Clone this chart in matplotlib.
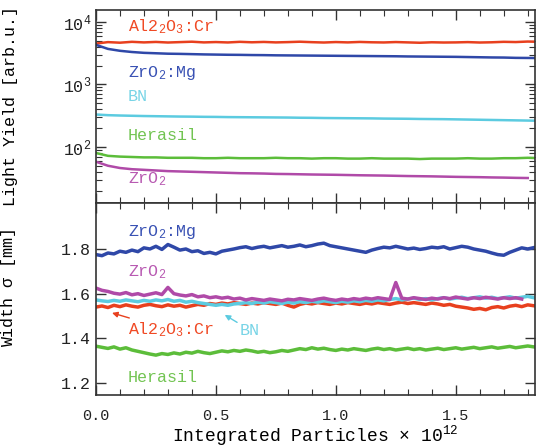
import numpy as np
import matplotlib
matplotlib.use('Agg')
import matplotlib.pyplot as plt
from matplotlib.ticker import MultipleLocator, LogLocator, NullFormatter, FixedLocator

plt.rcParams['font.family'] = ['Liberation Mono', 'DejaVu Sans Mono']
plt.rcParams['mathtext.fontset'] = 'custom'
plt.rcParams['mathtext.rm'] = 'Liberation Mono'
plt.rcParams['mathtext.it'] = 'Liberation Mono:italic'
plt.rcParams['mathtext.default'] = 'rm'

# 颜色
c_red = '#e8401e'
c_blue = '#2f48a8'
c_cyan = '#5ccbe0'
c_green = '#5cbd3a'
c_mag = '#b04aa8'

# ===== 上图: Light Yield（x 每 0.05 一个点）=====
x_top = np.arange(38) * 0.05
ly_al2o3 = [4500, 4750, 4650, 4800, 4700, 4780, 4680, 4750, 4820, 4700, 4760, 4690, 4800,
            4720, 4780, 4700, 4750, 4820, 4740, 4680, 4760, 4700, 4780, 4720, 4690, 4760,
            4700, 4640, 4720, 4680, 4700, 4750, 4680, 4720, 4800, 4760, 4850, 4800]
ly_zro2mg = [4300, 3700, 3450, 3300, 3200, 3150, 3100, 3080, 3050, 3020, 3000, 2980, 2970,
             2950, 2940, 2920, 2910, 2900, 2890, 2880, 2870, 2860, 2850, 2840, 2830, 2820,
             2800, 2790, 2780, 2770, 2760, 2740, 2720, 2700, 2690, 2660, 2650, 2640]
ly_bn = [330, 322, 318, 315, 312, 310, 308, 306, 305, 303, 302, 300, 299, 298, 297, 296,
         295, 293, 292, 290, 289, 288, 287, 286, 284, 283, 282, 280, 279, 278, 276, 274,
         272, 270, 268, 266, 264, 262]
ly_herasil = [80, 72, 70, 69, 68, 68, 67, 67, 67, 66, 66, 67, 66, 66, 66, 67, 66, 66, 65,
              66, 66, 65, 65, 66, 65, 65, 65, 64, 65, 65, 65, 66, 65, 65, 66, 66, 67, 66]
ly_zro2 = [58, 50, 46, 44, 43, 42, 41, 40.5, 40, 39.5, 39, 38.5, 38, 37.8, 37.5, 37, 36.8,
           36.5, 36.2, 36, 35.8, 35.5, 35.2, 35, 34.8, 34.5, 34.2, 34, 33.8, 33.5, 33.2,
           33, 32.8, 32.5, 32.3, 32, 31.8]

# ===== 下图: Width sigma（x 每 0.025 一个点）=====
x_bot = np.arange(74) * 0.025
w_zro2mg = [1.775, 1.770, 1.782, 1.778, 1.790, 1.785, 1.795, 1.788, 1.805,
            1.800, 1.812, 1.798, 1.820, 1.808, 1.795, 1.800, 1.788, 1.792, 1.780, 1.785, 1.778,
            1.790, 1.795, 1.800, 1.806, 1.810, 1.802, 1.808, 1.812, 1.805, 1.810, 1.815, 1.808,
            1.812, 1.818, 1.810, 1.815, 1.822, 1.826, 1.815, 1.810, 1.805, 1.800, 1.795, 1.790,
            1.785, 1.795, 1.802, 1.808, 1.805, 1.812, 1.806, 1.800, 1.804, 1.798, 1.802, 1.808,
            1.805, 1.810, 1.800, 1.806, 1.812, 1.808, 1.800, 1.795, 1.790, 1.782, 1.775, 1.772,
            1.785, 1.795, 1.805, 1.800, 1.806]
w_zro2 = [1.625, 1.615, 1.610, 1.602, 1.598, 1.605, 1.595, 1.600, 1.592,
          1.598, 1.604, 1.596, 1.628, 1.600, 1.594, 1.590, 1.596, 1.586, 1.590, 1.582, 1.586,
          1.580, 1.584, 1.576, 1.580, 1.572, 1.578, 1.574, 1.570, 1.576, 1.572, 1.568, 1.575,
          1.572, 1.578, 1.574, 1.570, 1.576, 1.580, 1.574, 1.570, 1.576, 1.572, 1.578, 1.574,
          1.580, 1.576, 1.582, 1.578, 1.574, 1.650, 1.580, 1.576, 1.582, 1.578, 1.574, 1.580,
          1.576, 1.582, 1.578, 1.585, 1.580, 1.576, 1.582, 1.578, 1.584, 1.580, 1.576, 1.582,
          1.578, 1.582, 1.576]
w_bn = [1.572, 1.568, 1.565, 1.570, 1.566, 1.572, 1.568, 1.564, 1.570,
        1.566, 1.572, 1.568, 1.574, 1.566, 1.570, 1.562, 1.566, 1.560, 1.556, 1.552, 1.548,
        1.552, 1.548, 1.554, 1.556, 1.560, 1.556, 1.562, 1.558, 1.564, 1.560, 1.556, 1.562,
        1.558, 1.564, 1.560, 1.566, 1.562, 1.568, 1.564, 1.560, 1.566, 1.562, 1.568, 1.564,
        1.570, 1.566, 1.572, 1.568, 1.574, 1.578, 1.572, 1.576, 1.580, 1.574, 1.578, 1.572,
        1.578, 1.582, 1.576, 1.580, 1.584, 1.578, 1.582, 1.586, 1.580, 1.584, 1.578, 1.582,
        1.586, 1.580, 1.584, 1.588, 1.582]
w_al2o3 = [1.540, 1.545, 1.538, 1.548, 1.542, 1.550, 1.544, 1.540, 1.548,
           1.552, 1.546, 1.542, 1.550, 1.544, 1.548, 1.540, 1.546, 1.552, 1.548, 1.556, 1.552,
           1.558, 1.554, 1.560, 1.556, 1.552, 1.558, 1.554, 1.560, 1.556, 1.552, 1.558, 1.548,
           1.540, 1.552, 1.558, 1.554, 1.560, 1.556, 1.552, 1.558, 1.554, 1.560, 1.556, 1.552,
           1.558, 1.554, 1.560, 1.556, 1.552, 1.558, 1.562, 1.556, 1.560, 1.556, 1.552, 1.558,
           1.554, 1.548, 1.552, 1.544, 1.540, 1.536, 1.530, 1.534, 1.528, 1.538, 1.542, 1.536,
           1.544, 1.548, 1.542, 1.550, 1.546]
w_herasil = [1.365, 1.360, 1.355, 1.362, 1.352, 1.358, 1.348, 1.342, 1.336,
             1.330, 1.325, 1.332, 1.328, 1.335, 1.330, 1.338, 1.334, 1.342, 1.336, 1.332, 1.338,
             1.344, 1.340, 1.346, 1.342, 1.348, 1.344, 1.338, 1.342, 1.336, 1.340, 1.346, 1.342,
             1.348, 1.354, 1.350, 1.358, 1.352, 1.356, 1.350, 1.346, 1.352, 1.348, 1.354, 1.350,
             1.346, 1.352, 1.356, 1.350, 1.354, 1.348, 1.352, 1.356, 1.350, 1.354, 1.348, 1.352,
             1.356, 1.350, 1.354, 1.358, 1.352, 1.356, 1.360, 1.354, 1.358, 1.362, 1.356, 1.360,
             1.364, 1.358, 1.362, 1.366, 1.362]

w_ticks = [1.2, 1.4, 1.6, 1.8]

XMAX = 1.83

fig = plt.figure(figsize=(5.36, 4.47), dpi=100)
ax1 = fig.add_axes([0.179, 0.546, 0.819, 0.432])
ax2 = fig.add_axes([0.179, 0.116, 0.819, 0.430])

# 上图
ax1.plot(x_top, ly_al2o3, color=c_red, lw=1.8)
ax1.plot(x_top, ly_zro2mg, color=c_blue, lw=1.8)
ax1.plot(x_top, ly_bn, color=c_cyan, lw=1.8)
ax1.plot(x_top, ly_herasil, color=c_green, lw=1.8)
ax1.plot(x_top[:len(ly_zro2)], ly_zro2, color=c_mag, lw=1.8)
ax1.set_yscale('log')
ax1.set_ylim(12.7, 15600)
ax1.set_xlim(0, XMAX)
ax1.yaxis.set_major_locator(LogLocator(base=10, numticks=10))
ax1.yaxis.set_minor_locator(LogLocator(base=10, subs=np.arange(2, 10), numticks=10))
ax1.yaxis.set_minor_formatter(NullFormatter())
ax1.xaxis.set_major_locator(MultipleLocator(0.5))
ax1.xaxis.set_minor_locator(MultipleLocator(0.1))
ax1.tick_params(labelbottom=False)
ax1.set_ylabel('Light Yield [arb.u.]', fontsize=12)

fs = 12
ax1.text(0.133, 8300, 'Al2$_2$O$_3$:Cr', color='#f04a25', fontsize=fs, va='center')
ax1.text(0.133, 1520, 'ZrO$_2$:Mg', color='#3a52b4', fontsize=fs, va='center')
ax1.text(0.133, 630, 'BN', color='#78d4e6', fontsize=fs, va='center')
ax1.text(0.133, 155, 'Herasil', color='#72c452', fontsize=fs, va='center')
ax1.text(0.133, 30, 'ZrO$_2$', color='#b85ab2', fontsize=fs, va='center')

# 下图
ax2.plot(x_bot, w_zro2mg, color=c_blue, lw=2.5)
ax2.plot(x_bot, w_herasil, color=c_green, lw=2.5)
ax2.plot(x_bot, w_al2o3, color=c_red, lw=2.5)
ax2.plot(x_bot, w_bn, color=c_cyan, lw=2.5)
ax2.plot(x_bot[:len(w_zro2)], w_zro2, color=c_mag, lw=2.5)
ax2.set_xlim(0, XMAX)
ax2.set_ylim(1.146, 2.006)
ax2.yaxis.set_major_locator(FixedLocator(w_ticks))
ax2.xaxis.set_major_locator(MultipleLocator(0.5))
ax2.xaxis.set_minor_locator(MultipleLocator(0.1))
ax2.set_ylabel('Width $\\sigma$ [mm]', fontsize=12)
ax2.set_xlabel('Integrated Particles \u00d7 10$^{12}$', fontsize=13, labelpad=0)

ax2.text(0.133, 1.876, 'ZrO$_2$:Mg', color='#3a52b4', fontsize=fs, va='center')
ax2.text(0.133, 1.697, 'ZrO$_2$', color='#b85ab2', fontsize=fs, va='center')
ax2.text(0.133, 1.225, 'Herasil', color='#72c452', fontsize=fs, va='center')
ax2.annotate('Al2$_2$O$_3$:Cr', xy=(0.067, 1.514), xytext=(0.133, 1.437),
             color='#f04a25', fontsize=fs, va='center',
             arrowprops=dict(arrowstyle='-|>', color=c_red, lw=1, mutation_scale=8,
                             shrinkA=0, shrinkB=0))
ax2.annotate('BN', xy=(0.517, 1.518), xytext=(0.6, 1.437),
             color='#78d4e6', fontsize=fs, va='center',
             arrowprops=dict(arrowstyle='-|>', color=c_cyan, lw=1, mutation_scale=8,
                             shrinkA=0, shrinkB=4))

for ax in (ax1, ax2):
    ax.tick_params(which='both', direction='in', top=True, right=True,
                   colors='#333333', labelcolor='#222222', labelsize=12)
    ax.tick_params(which='major', length=7, width=1)
    ax.tick_params(which='minor', length=4, width=0.8)
    ax.tick_params(axis='x', pad=10, labelsize=11)
    for s in ax.spines.values():
        s.set_color('#333333')
        s.set_linewidth(1.2)
    ax.yaxis.set_label_coords(-0.178, 0.5)

ax2.yaxis.set_label_coords(-0.178, 0.56)

plt.savefig('out.png', dpi=100)
